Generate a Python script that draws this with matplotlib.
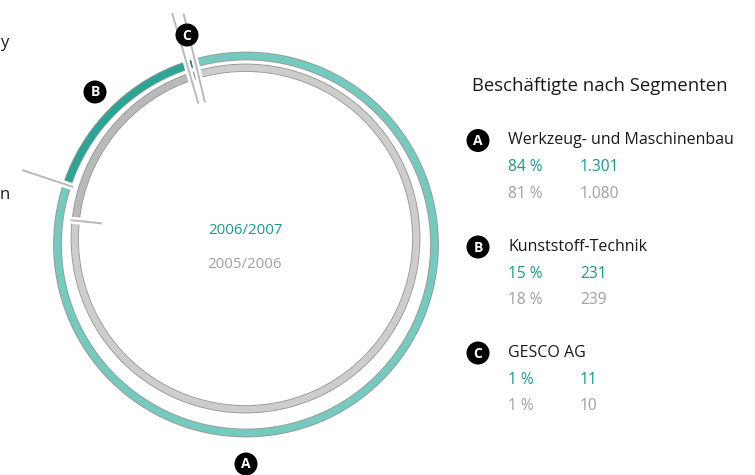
import numpy as np
import matplotlib
matplotlib.use('Agg')
import matplotlib.pyplot as plt
from matplotlib.patches import Wedge, Circle

# ---- data ----
segments = ['A', 'B', 'C']
segment_names = ['Werkzeug- und Maschinenbau', 'Kunststoff-Technik', 'GESCO AG']
employees_2007 = [1301, 231, 11]
employees_2006 = [1080, 239, 10]
pct_2007 = [84, 15, 1]
pct_2006 = [81, 18, 1]
value_labels_2007 = ['1.301', '231', '11']
value_labels_2006 = ['1.080', '239', '10']
year_labels = ['2006/2007', '2005/2006']
title = 'Beschäftigte nach Segmenten'

plt.rcParams['font.family'] = ['Open Sans', 'DejaVu Sans']

W, H = 755, 475
fig = plt.figure(figsize=(W / 100, H / 100), dpi=100)
ax = fig.add_axes([0, 0, 1, 1])
ax.set_xlim(0, W)
ax.set_ylim(0, H)
ax.axis('off')


def Y(y):
    return H - y


TEAL_TXT = '#169b8b'
GREY_TXT = '#a0a0a0'
TEAL = ['#74cabe', '#2ba594', '#0e8376']
GREY = ['#cdcdcd', '#b9b9b9', '#8c8c8c']

outer_c = (246, Y(244.5))
inner_c = (245.5, Y(238.5))
outer_r, outer_w = 192, 7
inner_r, inner_w = 174, 6.5
outer_start = 161.6
inner_start = 174.0


def draw_ring(center, r, w, values, start, colors):
    ax.add_patch(Wedge(center, r + 0.9, 0, 360, width=w + 1.8,
                       facecolor='#9a9a9a', edgecolor='none', zorder=1))
    total = float(sum(values))
    ang = start
    bounds = {}
    for i in [1, 2, 0]:
        span = values[i] / total * 360.0
        ax.add_patch(Wedge(center, r, ang - span, ang, width=w,
                           facecolor=colors[i], edgecolor='none', zorder=2))
        bounds[i] = (ang - span, ang)
        ang -= span
    return bounds


ob = draw_ring(outer_c, outer_r, outer_w, employees_2007, outer_start, TEAL)
ib = draw_ring(inner_c, inner_r, inner_w, employees_2006, inner_start, GREY)


def pol(c, a, r):
    t = np.deg2rad(a)
    return c[0] + r * np.cos(t), c[1] + r * np.sin(t)


def sep(p1, p2):
    xs = [p1[0], p2[0]]
    ys = [p1[1], p2[1]]
    ax.plot(xs, ys, color='white', lw=5, solid_capstyle='butt', zorder=3)
    ax.plot(xs, ys, color='#b9b9b9', lw=1.4, solid_capstyle='butt', zorder=4)


# B/A separators
sep(pol(outer_c, ob[1][1], 236), pol(outer_c, ob[1][1], 182))
sep(pol(inner_c, ib[1][1], 176), pol(inner_c, ib[1][1], 144))
# C separators
sep(pol(outer_c, ob[2][1], 243), pol(inner_c, ib[2][1], 143))
sep(pol(outer_c, ob[2][0], 239), pol(inner_c, ib[2][0], 142))


def badge(x, y, letter, r=11.5):
    ax.add_patch(Circle((x, Y(y)), r, facecolor='black', edgecolor='none', zorder=5))
    ax.text(x, Y(y) - 0.5, letter, color='white', fontsize=10, fontweight='bold',
            ha='center', va='center', zorder=6)


# ring badges
badge(246, 464, 'A')
badge(95, 92, 'B')
badge(187, 35, 'C')

# centre labels
ax.text(245, Y(231), year_labels[0], color=TEAL_TXT, fontsize=10.8, ha='center', va='center')
ax.text(245, Y(264), year_labels[1], color=GREY_TXT, fontsize=10.8, ha='center', va='center')

# legend
ax.text(472, Y(86), title, color='#1a1a1a', fontsize=13.3, ha='left', va='center')
rows_y = [140.5, 247, 353]
for i, seg in enumerate(segments):
    y0 = rows_y[i]
    badge(478, y0, seg)
    ax.text(508, Y(y0), segment_names[i], color='#1a1a1a', fontsize=11.5, ha='left', va='center')
    ax.text(508, Y(y0 + 26.5), f'{pct_2007[i]} %', color=TEAL_TXT, fontsize=11.2, ha='left', va='center')
    ax.text(580, Y(y0 + 26.5), value_labels_2007[i], color=TEAL_TXT, fontsize=11.2, ha='left', va='center')
    ax.text(508, Y(y0 + 53), f'{pct_2006[i]} %', color=GREY_TXT, fontsize=11.2, ha='left', va='center')
    ax.text(580, Y(y0 + 53), value_labels_2006[i], color=GREY_TXT, fontsize=11.2, ha='left', va='center')

# fragments of neighbouring text at the left edge
ax.text(0, Y(47), 'y', color='#1a1a1a', fontsize=12, ha='left', va='baseline')
ax.text(0, Y(199), 'n', color='#1a1a1a', fontsize=12, ha='left', va='baseline')

fig.savefig('out.png', dpi=100)
